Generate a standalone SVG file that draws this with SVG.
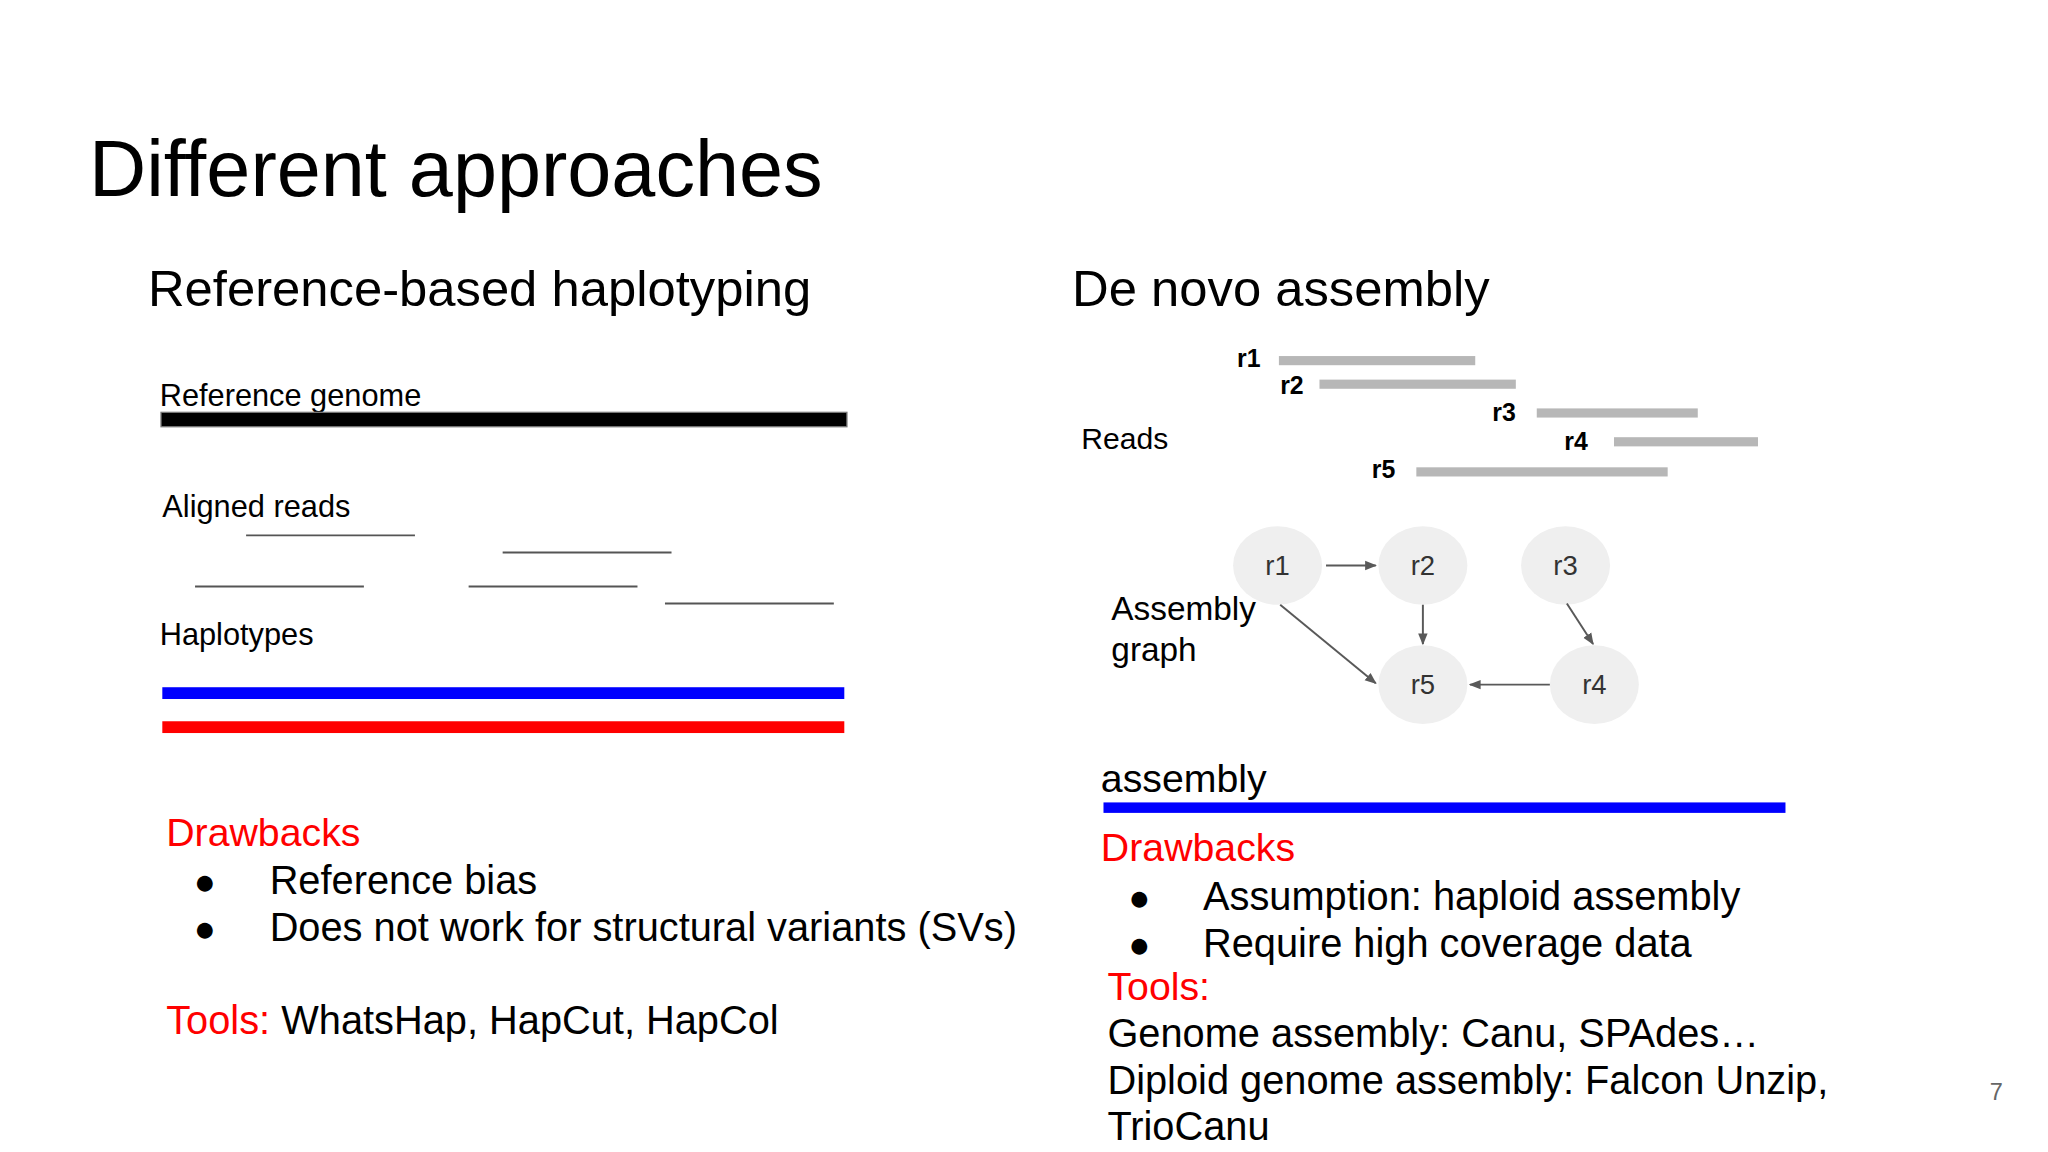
<svg xmlns="http://www.w3.org/2000/svg" width="2048" height="1152" viewBox="0 0 2048 1152">
<defs>
<style>
text{font-family:"Liberation Sans",Arial,sans-serif;fill:#000}
.r{fill:#f00}
.lbl{font-weight:bold;font-size:19px}
.read{fill:#b7b7b7}
.al{stroke:#555;stroke-width:1.5}
.node ellipse{fill:#efefef}
.node text{font-size:21px;fill:#333;text-anchor:middle}
.e{stroke:#595959;stroke-width:1.5;fill:none;marker-end:url(#ah)}
</style>
<marker id="ah" viewBox="0 0 10 10" refX="9" refY="5" markerWidth="6" markerHeight="6" orient="auto"><path d="M0,1 L10,5 L0,9 z" fill="#595959"/></marker>
</defs>
<rect width="2048" height="1152" fill="#fff"/>
<g transform="scale(1.309,1.309)">
<text x="68" y="150" font-size="60.5">Different approaches</text>
<text x="113" y="234" font-size="38.8">Reference-based haplotyping</text>
<text x="819" y="234" font-size="38.8">De novo assembly</text>

<g id="left-diagram">
<text x="122" y="310" font-size="23.5">Reference genome</text>
<rect x="123" y="315" width="524" height="11" fill="#000" stroke="#777" stroke-width="1"/>
<text x="124" y="395" font-size="23.5">Aligned reads</text>
<line class="al" x1="188" y1="409" x2="317" y2="409"/>
<line class="al" x1="384" y1="422" x2="513" y2="422"/>
<line class="al" x1="149" y1="448" x2="278" y2="448"/>
<line class="al" x1="358" y1="448" x2="487" y2="448"/>
<line class="al" x1="508" y1="461" x2="637" y2="461"/>
<text x="122" y="493" font-size="23.5">Haplotypes</text>
<rect x="124" y="525" width="521" height="9" fill="#00f"/>
<rect x="124" y="551" width="521" height="9" fill="#f00"/>
</g>

<g id="left-text">
<text x="127" y="646" font-size="30" class="r">Drawbacks</text>
<text x="148" y="683" font-size="28">●</text>
<text x="206" y="683" font-size="30.4">Reference bias</text>
<text x="148" y="719" font-size="28">●</text>
<text x="206" y="719" font-size="30.4">Does not work for structural variants (SVs)</text>
<text x="127" y="790" font-size="30.4"><tspan class="r">Tools:</tspan> WhatsHap, HapCut, HapCol</text>
</g>

<g id="reads">
<text x="826" y="343" font-size="23">Reads</text>
<text x="945" y="280" class="lbl">r1</text><rect class="read" x="977" y="272" width="150" height="7"/>
<text x="978" y="301" class="lbl">r2</text><rect class="read" x="1008" y="290" width="150" height="7"/>
<text x="1140" y="322" class="lbl">r3</text><rect class="read" x="1174" y="312" width="123" height="7"/>
<text x="1195" y="344" class="lbl">r4</text><rect class="read" x="1233" y="334" width="110" height="7"/>
<text x="1048" y="365" class="lbl">r5</text><rect class="read" x="1082" y="357" width="192" height="7"/>
</g>

<text x="849" y="474" font-size="25.5">Assembly</text>
<text x="849" y="505" font-size="25.5">graph</text>

<g id="n1" class="node"><ellipse cx="976" cy="432" rx="34" ry="30"/><text x="976" y="439">r1</text></g>
<g id="n2" class="node"><ellipse cx="1087" cy="432" rx="34" ry="30"/><text x="1087" y="439">r2</text></g>
<g id="n3" class="node"><ellipse cx="1196" cy="432" rx="34" ry="30"/><text x="1196" y="439">r3</text></g>
<g id="n4" class="node"><ellipse cx="1218" cy="523" rx="34" ry="30"/><text x="1218" y="530">r4</text></g>
<g id="n5" class="node"><ellipse cx="1087" cy="523" rx="34" ry="30"/><text x="1087" y="530">r5</text></g>

<g id="connectors">
<line class="e" x1="1013" y1="432" x2="1051" y2="432"/>
<line class="e" x1="1087" y1="462" x2="1087" y2="492"/>
<line class="e" x1="1197" y1="461" x2="1217" y2="492"/>
<line class="e" x1="1184" y1="523" x2="1123" y2="523"/>
<line class="e" x1="978" y1="462" x2="1051" y2="522"/>
</g>

<g id="right-text">
<text x="841" y="605" font-size="30">assembly</text>
<rect x="843" y="613" width="521" height="8" fill="#00f"/>
<text x="841" y="658" font-size="30" class="r">Drawbacks</text>
<text x="862" y="695" font-size="28">●</text>
<text x="919" y="695" font-size="30.4">Assumption: haploid assembly</text>
<text x="862" y="731" font-size="28">●</text>
<text x="919" y="731" font-size="30.4">Require high coverage data</text>
<text x="846" y="764" font-size="30" class="r">Tools:</text>
<text x="846" y="800" font-size="30.4">Genome assembly: Canu, SPAdes…</text>
<text x="846" y="836" font-size="30.4">Diploid genome assembly: Falcon Unzip,</text>
<text x="846" y="871" font-size="30.4">TrioCanu</text>
</g>
<text x="1520" y="840" font-size="18" style="fill:#666">7</text>
</g>
</svg>
